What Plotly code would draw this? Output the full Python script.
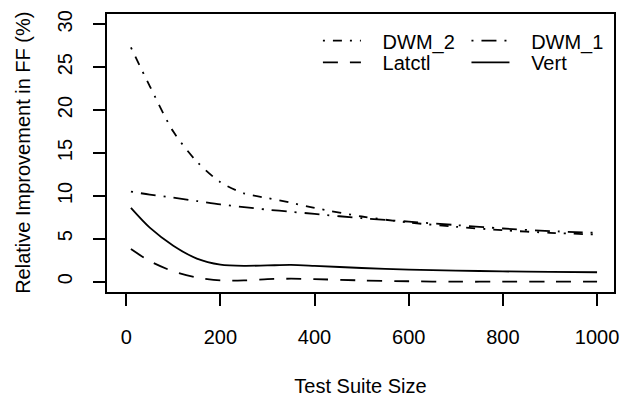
import plotly.graph_objects as go

# Data
test_suite_size = [10, 50, 100, 150, 200, 250, 300, 350, 400, 500, 600, 700, 800, 900, 1000]
dwm_2 = [27.3, 22.8, 17.5, 14.0, 11.6, 10.3, 9.75, 9.2, 8.6, 7.6, 6.9, 6.4, 6.0, 5.7, 5.5]
dwm_1 = [10.5, 10.15, 9.8, 9.4, 9.0, 8.7, 8.4, 8.15, 7.9, 7.4, 7.0, 6.6, 6.2, 5.9, 5.7]
latctl = [3.8, 2.4, 1.2, 0.5, 0.15, 0.15, 0.3, 0.35, 0.3, 0.15, 0.05, 0.0, 0.0, 0.0, 0.0]
vert = [8.6, 6.3, 4.2, 2.7, 2.0, 1.85, 1.9, 1.95, 1.85, 1.6, 1.4, 1.3, 1.2, 1.15, 1.1]

x_ticks = [0, 200, 400, 600, 800, 1000]
y_ticks = [0, 5, 10, 15, 20, 25, 30]
y_range = [-1.2, 31.2]

FONT = "Liberation Sans, Arial, Helvetica, sans-serif"
LW = 1.8
PAD = "\u00a0\u00a0\u00a0"

# (name, values, dash, legend, y-axis) -- y and y2 share an identical scale
series = [
    ("DWM_2", dwm_2, "2px,8px,9px,8px", "legend", "y2"),
    ("DWM_1", dwm_1, "2px,8px,15px,8px", "legend2", "y2"),
    ("Latctl", latctl, "15px,12px", "legend3", "y"),
    ("Vert", vert, "solid", "legend4", "y"),
]

fig = go.Figure()
for name, vals, dash, lg, yax in series:
    fig.add_trace(go.Scatter(
        x=test_suite_size, y=vals, name=PAD + name, mode="lines",
        line=dict(color="black", width=LW, dash=dash, shape="spline", smoothing=0.8),
        legend=lg, xaxis="x", yaxis=yax,
    ))

legend_common = dict(bgcolor="rgba(0,0,0,0)", borderwidth=0, itemwidth=38,
                     font=dict(family=FONT, size=20, color="black"),
                     xanchor="left", yanchor="middle")
fig.update_layout(
    width=626, height=401,
    margin=dict(l=107, r=7, t=14, b=105),
    paper_bgcolor="white", plot_bgcolor="white",
    font=dict(family=FONT, size=20, color="black"),
    showlegend=True,
    legend=dict(x=0.416, y=0.904, **legend_common),
    legend2=dict(x=0.709, y=0.904, **legend_common),
    legend3=dict(x=0.416, y=0.826, **legend_common),
    legend4=dict(x=0.709, y=0.826, **legend_common),
    xaxis=dict(
        anchor="y",
        range=[-40.8, 1036], tickmode="array", tickvals=x_ticks,
        ticks="outside", ticklen=12, tickwidth=1.5, tickcolor="black",
        showline=True, linecolor="black", linewidth=1.5, mirror=True,
        showgrid=False, zeroline=False, ticklabelstandoff=14,
        title=dict(text="Test Suite Size", standoff=32, font=dict(size=20)),
        tickfont=dict(size=20),
    ),
    yaxis=dict(
        anchor="x",
        range=y_range, tickmode="array", tickvals=y_ticks,
        ticks="outside", ticklen=12, tickwidth=1.5, tickcolor="black",
        showline=True, linecolor="black", linewidth=1.5, mirror=True,
        showgrid=False, zeroline=False, showticklabels=False,
    ),
    # label axis: same scale; transparent longer ticks push the labels outward
    yaxis2=dict(
        anchor="x", overlaying="y", side="left", range=y_range,
        tickmode="array", tickvals=y_ticks,
        ticks="outside", ticklen=26, tickwidth=1, tickcolor="rgba(0,0,0,0)",
        showline=False, showgrid=False, zeroline=False, tickangle=-90,
        tickfont=dict(size=20, family=FONT, color="black"),
    ),
    annotations=[dict(
        text="Relative Improvement in FF (%)", xref="paper", yref="paper",
        x=(22 - 107) / 512, y=0.5, xanchor="center", yanchor="middle",
        textangle=-90, showarrow=False, font=dict(family=FONT, size=20, color="black"),
    )],
)

fig.write_html("out.html", config={"displayModeBar": False},
               post_script="document.body.style.margin='0';")
